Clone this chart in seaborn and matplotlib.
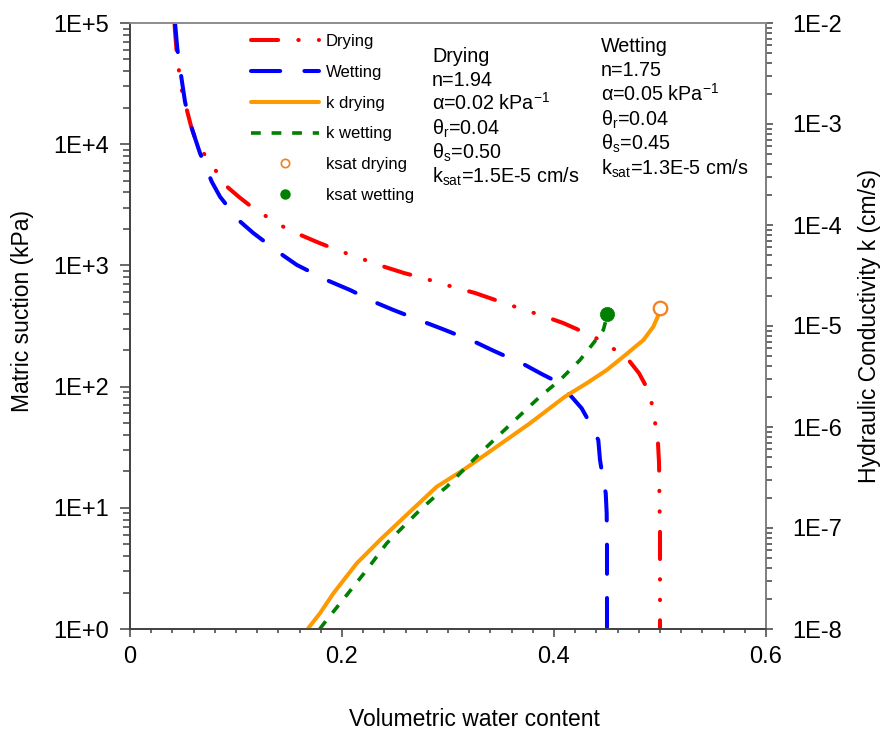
import numpy as np
import pandas as pd
import matplotlib
matplotlib.use("Agg")
import matplotlib.pyplot as plt
import seaborn as sns
from matplotlib.ticker import MultipleLocator, LogLocator, NullFormatter, FuncFormatter
from matplotlib.lines import Line2D

# soil water characteristic curves (theta, suction in kPa)
theta_dry = [0.042, 0.0425, 0.0441, 0.0481, 0.0573, 0.0629, 0.0818, 0.0918, 0.1028, 0.1160,
             0.1415, 0.1585, 0.1764, 0.1953, 0.2217, 0.2406, 0.2585, 0.2764, 0.3047, 0.3255,
             0.3613, 0.3896, 0.4085, 0.4255, 0.4453, 0.4689, 0.4802, 0.4887, 0.4934, 0.4981,
             0.4991, 0.4995, 0.5, 0.5, 0.5]
suction_dry = [100000, 84700, 56500, 29600, 14400, 10200, 5900, 4440, 3670, 2980,
               2150, 1820, 1560, 1340, 1110, 970, 865, 787, 664, 592,
               462, 383, 335, 288, 238, 172, 129, 94, 66.5, 34.3,
               23.4, 11.6, 6.2, 2.0, 1.0]

theta_wet = [0.0425, 0.0446, 0.0488, 0.0519, 0.0566, 0.0660, 0.0771, 0.0849, 0.1022, 0.1163,
             0.1415, 0.1573, 0.1855, 0.2075, 0.2327, 0.2484, 0.2799, 0.2972, 0.3271, 0.3427,
             0.3726, 0.3884, 0.4025, 0.4151, 0.4261, 0.4340, 0.4418, 0.4434, 0.4465, 0.4488,
             0.4497, 0.4500, 0.4500, 0.4500]
suction_wet = [100000, 61800, 33900, 22400, 15000, 8450, 4910, 3690, 2370, 1850,
               1260, 1010, 757, 627, 490, 429, 335, 293, 230, 198,
               151, 127, 110, 85.3, 66.2, 49.8, 36.2, 24.8, 16.9, 13.2,
               9.0, 4.8, 1.6, 1.0]

# hydraulic conductivity curves (theta, k in cm/s)
theta_kdry = [0.1676, 0.1792, 0.1918, 0.2139, 0.2358, 0.2610, 0.2893, 0.3144, 0.3459, 0.3774,
              0.4104, 0.4308, 0.4497, 0.4654, 0.4843, 0.4937, 0.4993, 0.5]
k_dry = [1.0e-8, 1.43e-8, 2.25e-8, 4.47e-8, 7.6e-8, 1.35e-7, 2.56e-7, 3.75e-7, 6.38e-7, 1.09e-6,
         2.0e-6, 2.71e-6, 3.66e-6, 4.97e-6, 7.26e-6, 9.84e-6, 1.34e-5, 1.5e-5]

theta_kwet = [0.179, 0.1856, 0.1981, 0.2107, 0.2233, 0.2422, 0.2578, 0.2736, 0.2893, 0.2988,
              0.3302, 0.3616, 0.3868, 0.4057, 0.4245, 0.4371, 0.4465, 0.4491, 0.45]
k_wet = [1.0e-8, 1.23e-8, 1.79e-8, 2.62e-8, 3.84e-8, 7.06e-8, 1.03e-7, 1.51e-7, 2.12e-7, 2.56e-7,
         5.5e-7, 1.13e-6, 2.0e-6, 2.92e-6, 4.6e-6, 6.75e-6, 9.12e-6, 1.15e-5, 1.3e-5]

# saturated conductivity points
ksat_theta = [0.5, 0.45]
ksat_k = [1.5e-5, 1.3e-5]

legend_labels = ["Drying", "Wetting", "k drying", "k wetting", "ksat drying", "ksat wetting"]

drying_params = ["Drying", "n=1.94", "\u03b1=0.02 kPa$^{-1}$", "\u03b8$_{r}$=0.04",
                 "\u03b8$_{s}$=0.50", "k$_{sat}$=1.5E-5 cm/s"]
wetting_params = ["Wetting", "n=1.75", "\u03b1=0.05 kPa$^{-1}$", "\u03b8$_{r}$=0.04",
                  "\u03b8$_{s}$=0.45", "k$_{sat}$=1.3E-5 cm/s"]

sns.set_style("ticks")
plt.rcParams["font.family"] = ["Liberation Sans", "DejaVu Sans"]
plt.rcParams["mathtext.fontset"] = "custom"
plt.rcParams["mathtext.rm"] = "Liberation Sans"
plt.rcParams["mathtext.it"] = "Liberation Sans:italic"
plt.rcParams["mathtext.default"] = "regular"
plt.rcParams["text.color"] = "black"
plt.rcParams["axes.labelcolor"] = "black"
plt.rcParams["xtick.labelcolor"] = "black"
plt.rcParams["ytick.labelcolor"] = "black"

RED, BLUE, ORANGE, GREEN = "#ff0000", "#0000ff", "#ff9900", "#008000"
dash_dry = (0, (6.75, 5, 0.1, 5, 0.1, 5))
dash_wet = (0, (7.25, 6))
dash_kwet = (0, (2.7, 3.0))

fig = plt.figure(figsize=(8.87, 7.30), dpi=100)
ax = fig.add_axes([130 / 887, 101 / 730, 636 / 887, 606 / 730])
ax.set_yscale("log")
ax2 = ax.twinx()
ax2.set_yscale("log")

swcc_dry = pd.DataFrame({"theta": theta_dry, "suction": suction_dry})
swcc_wet = pd.DataFrame({"theta": theta_wet, "suction": suction_wet})
kdry = pd.DataFrame({"theta": theta_kdry, "k": k_dry})
kwet = pd.DataFrame({"theta": theta_kwet, "k": k_wet})

sns.lineplot(data=swcc_dry, x="theta", y="suction", sort=False, estimator=None, ax=ax,
             color=RED, linewidth=2.9, linestyle=dash_dry, dash_capstyle="round")
sns.lineplot(data=swcc_wet, x="theta", y="suction", sort=False, estimator=None, ax=ax,
             color=BLUE, linewidth=2.9, linestyle=dash_wet, dash_capstyle="round")
sns.lineplot(data=kdry, x="theta", y="k", sort=False, estimator=None, ax=ax2,
             color=ORANGE, linewidth=2.9, solid_capstyle="round")
sns.lineplot(data=kwet, x="theta", y="k", sort=False, estimator=None, ax=ax2,
             color=GREEN, linewidth=2.6, linestyle=dash_kwet, dash_capstyle="butt")
sns.scatterplot(x=ksat_theta[:1], y=ksat_k[:1], ax=ax2, s=95, marker="o",
                facecolor="white", edgecolor="#f28020", linewidth=1.6, zorder=5)
sns.scatterplot(x=ksat_theta[1:], y=ksat_k[1:], ax=ax2, s=105, marker="o",
                color=GREEN, edgecolor=GREEN, linewidth=0.5, zorder=5)

# axes limits and ticks
ax.set_xlim(0, 0.6)
ax.set_ylim(1, 1e5)
ax2.set_ylim(1e-8, 1e-2)
ax.xaxis.set_major_locator(MultipleLocator(0.2))
ax.xaxis.set_minor_locator(MultipleLocator(0.02))
ax.xaxis.set_major_formatter(FuncFormatter(lambda v, p: f"{v:g}"))
decade_fmt = FuncFormatter(lambda v, p: f"1E{int(round(np.log10(v))):+d}")
for a in (ax, ax2):
    a.yaxis.set_major_locator(LogLocator(base=10, numticks=12))
    a.yaxis.set_minor_locator(LogLocator(base=10, subs=np.arange(2, 10), numticks=12))
    a.yaxis.set_minor_formatter(NullFormatter())
    a.yaxis.set_major_formatter(decade_fmt)
    a.xaxis.offsetText.set_visible(False)
    a.yaxis.offsetText.set_visible(False)

tick_col = "#404040"
ax.tick_params(axis="x", which="major", direction="out", length=6, width=1.1, color=tick_col,
               labelsize=17, pad=6)
ax.tick_params(axis="x", which="minor", direction="out", length=3, width=1.1, color=tick_col)
ax.tick_params(axis="y", which="major", direction="out", length=7, width=1.1, color=tick_col,
               labelsize=17, pad=8)
ax.tick_params(axis="y", which="minor", direction="out", length=5, width=1.1, color=tick_col)
ax2.tick_params(axis="y", which="major", direction="out", length=5, width=1.1, color=tick_col,
                labelsize=17, pad=14)
ax2.tick_params(axis="y", which="minor", direction="out", length=4, width=1.1, color=tick_col)

for a in (ax, ax2):
    a.spines["left"].set_color(tick_col)
    a.spines["bottom"].set_color(tick_col)
    a.spines["top"].set_color("#8c8c8c")
    a.spines["right"].set_color("#7f7f7f")
    for s in a.spines.values():
        s.set_linewidth(1.2)
        s.set_visible(True)

ax.set_xlabel("Volumetric water content", fontsize=16.5)
ax.set_ylabel("Matric suction (kPa)", fontsize=16.5)
ax2.set_xlabel("")
ax2.set_ylabel("Hydraulic Conductivity k (cm/s)", fontsize=16.5)
ax.xaxis.set_label_coords(0.542, -0.13)
ax.yaxis.set_label_coords(-0.151, 0.525)
ax2.yaxis.set_label_coords(1.145, 0.5)

# legend
handles = [
    Line2D([], [], color=RED, lw=2.9, linestyle=dash_dry, dash_capstyle="round"),
    Line2D([], [], color=BLUE, lw=2.9, linestyle=dash_wet, dash_capstyle="round"),
    Line2D([], [], color=ORANGE, lw=2.9),
    Line2D([], [], color=GREEN, lw=2.6, linestyle=dash_kwet),
    Line2D([], [], ls="none", marker="o", markersize=6, markerfacecolor="white",
           markeredgecolor="#f28020", markeredgewidth=1.2),
    Line2D([], [], ls="none", marker="o", markersize=6.5, color=GREEN),
]
ax2.legend(handles, legend_labels, loc="upper left", bbox_to_anchor=(0.19, 0.982),
           frameon=False, fontsize=12, handlelength=4.1, handletextpad=0.4,
           labelspacing=0.95, borderpad=0, borderaxespad=0)

# parameter blocks
def px_to_axes(xp, yp):
    return (xp - 130) / 636, (629 - yp) / 606

for i, line in enumerate(drying_params):
    xa, ya = px_to_axes(432, 61.7 + 24.2 * i)
    ax2.text(xa, ya, line, transform=ax2.transAxes, fontsize=14.2, va="baseline", ha="left")
for i, line in enumerate(wetting_params):
    xa, ya = px_to_axes(601, 51.7 + 24.6 * i)
    ax2.text(xa, ya, line, transform=ax2.transAxes, fontsize=14.2, va="baseline", ha="left")

fig.savefig("out.png", dpi=100)
